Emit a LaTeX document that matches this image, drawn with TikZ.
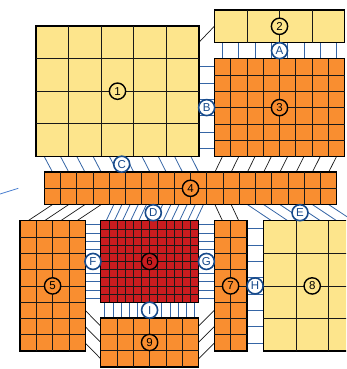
\documentclass[tikz,border=0pt]{standalone}
\usepackage{fontspec}
\setmainfont{Liberation Sans}
\usetikzlibrary{calc,backgrounds}
\definecolor{cyel}{HTML}{FDE58C}
\definecolor{corg}{HTML}{F98E30}
\definecolor{cred}{HTML}{C91C1F}
\definecolor{cblu}{HTML}{3565A5}
\definecolor{cbld}{HTML}{174A8B}
\definecolor{cstray}{HTML}{4A7FCF}
\tikzset{
 blk/.style={draw=black, line width=1.4pt, anchor=north west, inner sep=0pt, outer sep=0pt},
 gl/.style={line width=0.7pt, black!90},
 bl/.style={cblu, line width=0.8pt},
 kl/.style={black!90, line width=0.7pt},
 num/.style={circle, draw=black, line width=1.4pt, minimum size=16.3pt, inner sep=0pt, font=\fontsize{11.5}{11.5}\selectfont},
 let/.style={circle, draw=cbld, fill=white, text=cbld, line width=1.6pt, minimum size=16pt, inner sep=0pt, font=\fontsize{11.5}{11.5}\selectfont},
}
\newcommand\cellgrid[5]{%
  \ifnum#2>1
    \foreach \i in {2,...,#2}{\draw[gl] ($(#1.north west)+({(\i-1)*#4},0)$) -- ($(#1.south west)+({(\i-1)*#4},0)$);}%
  \fi
  \ifnum#3>1
    \foreach \j in {2,...,#3}{\draw[gl] ($(#1.north west)+(0,{(\j-1)*#5})$) -- ($(#1.north east)+(0,{(\j-1)*#5})$);}%
  \fi}
\begin{document}
\begin{tikzpicture}[x=1pt,y=-1pt]
\useasboundingbox (0,0) rectangle (346,369);
\clip (0,0) rectangle (346,369);
% blocks
\node[blk, fill=cyel, minimum width=163pt, minimum height=130.4pt] (b1) at (36,26) {};
\node[blk, fill=cyel, minimum width=130.4pt, minimum height=32.6pt] (b2) at (214.3,10) {};
\node[blk, fill=corg, minimum width=130.4pt, minimum height=97.8pt] (b3) at (214.3,58.7) {};
\node[blk, fill=corg, minimum width=292.4pt, minimum height=32.6pt] (b4) at (44.3,172) {};
\node[blk, fill=corg, minimum width=65.2pt, minimum height=130.4pt] (b5) at (20,220.7) {};
\node[blk, fill=cred, minimum width=97.8pt, minimum height=81.5pt] (b6) at (100.7,220.7) {};
\node[blk, fill=corg, minimum width=32.6pt, minimum height=130.4pt] (b7) at (214.3,220.7) {};
\node[blk, fill=cyel, minimum width=97.8pt, minimum height=130.4pt] (b8) at (263.3,220.7) {};
\node[blk, fill=corg, minimum width=97.8pt, minimum height=48.9pt] (b9) at (100.7,318) {};
\cellgrid{b1}{5}{4}{32.6}{32.6}
\cellgrid{b2}{4}{1}{32.6}{32.6}
\cellgrid{b3}{8}{6}{16.3}{16.3}
\cellgrid{b4}{18}{2}{16.25}{16.3}
\cellgrid{b5}{4}{8}{16.3}{16.3}
\cellgrid{b6}{12}{10}{8.15}{8.15}
\cellgrid{b7}{2}{8}{16.3}{16.3}
\cellgrid{b8}{3}{4}{32.6}{32.6}
\cellgrid{b9}{6}{3}{16.3}{16.3}
% connectors
\begin{scope}[on background layer]
\draw[kl] ($(b1.north east)+(0,16.3)$) -- (b2.west);
\foreach \k in {0,...,7} \draw[bl] ($(b2.south west)+({8.15+16.3*\k},0)$) -- ($(b3.north west)+({8.15+16.3*\k},0)$);
\foreach \k in {0,...,5} {\path ($(b3.north west)+(0,{8.15+16.3*\k})$) coordinate (p); \draw[bl] (p) -- (p -| b1.east);}
\foreach \k in {0,...,9} \draw[bl] ($(b1.south west)+({8.15+16.3*\k},0)$) -- ($(b4.north west)+({8.15+16.25*\k},0)$);
\foreach \k in {0,...,7} \draw[kl] ($(b3.south west)+({8.15+16.3*\k},0)$) -- ($(b4.north west)+({8.15+16.25*(\k+10)},0)$);
\foreach \k in {0,...,3} \draw[kl] ($(b4.south west)+({8.15+16.25*\k},0)$) -- ($(b5.north west)+({8.15+16.3*\k},0)$);
\foreach \k in {0,...,11} \draw[bl] ($(b4.south west)+({69.5+8.15*\k},0)$) -- ($(b6.north west)+({5.5+8.15*\k},0)$);
\foreach \k in {0,...,5} \draw[bl] ($(b4.south west)+({8.15+16.25*(\k+12)},0)$) -- ($(b8.north west)+({8.15+16.3*\k},0)$);
\foreach \k in {0,1} \draw[kl] ($(b4.south west)+({8.15+16.25*(\k+10)},0)$) -- ($(b7.north west)+({8.15+16.3*\k},0)$);
\foreach \k in {0,...,9} {\path ($(b6.north west)+(0,{4.075+8.15*\k})$) coordinate (p); \draw[bl] (p) -- (p -| b5.east);}
\foreach \k in {0,...,9} {\path ($(b6.north east)+(0,{4.075+8.15*\k})$) coordinate (p); \draw[bl] (p) -- (p -| b7.west);}
\foreach \k in {0,...,7} {\path ($(b7.north east)+(0,{8.15+16.3*\k})$) coordinate (p); \draw[bl] (p) -- (p -| b8.west);}
\foreach \k in {0,...,11} {\path ($(b6.south west)+({4.075+8.15*\k},0)$) coordinate (p); \draw[bl] (p) -- (p |- b9.north);}
\foreach \k in {0,1,2} \draw[kl] ($(b5.north east)+(0,{8.15+16.3*(\k+5)})$) -- ($(b9.north west)+(0,{8.15+16.3*\k})$);
\foreach \k in {0,1,2} \draw[kl] ($(b9.north east)+(0,{8.15+16.3*\k})$) -- ($(b7.north west)+(0,{8.15+16.3*(\k+5)})$);
\coordinate (s1) at (0,194);
\coordinate (s2) at (18.3,188.3);
\draw[line width=0.8pt, cstray] (s1) -- (s2);
\end{scope}
% number labels
\node[num, fill=cyel] (n1) at (b1.center) {1};
\node[num, fill=cyel] (n2) at (b2.center) {2};
\node[num, fill=corg] (n3) at (b3.center) {3};
\node[num, fill=corg] (n4) at (b4.center) {4};
\node[num, fill=corg] (n5) at (b5.center) {5};
\node[num, fill=cred] (n6) at (b6.center) {6};
\node[num, fill=corg] (n7) at (b7.center) {7};
\node[num, fill=cyel] (n8) at ($(b8.north west)+(48.9,65.2)$) {8};
\node[num, fill=corg] (n9) at (b9.center) {9};
% interface labels
\node[let] (la) at ($(b2.south)!0.5!(b3.north)$) {A};
\node[let] (lb) at ($(b3.west)!0.5!(b3.west -| b1.east)$) {B};
\node[let] (lc) at (121.7,164.2) {C};
\node[let] (ld) at (153.3,212.7) {D};
\node[let] (le) at (300,212.7) {E};
\node[let] (lf) at ($(b6.west)!0.5!(b6.west -| b5.east)$) {F};
\node[let] (lg) at ($(b6.east)!0.5!(b6.east -| b7.west)$) {G};
\node[let] (lh) at ($(b7.east)!0.5!(b7.east -| b8.west)$) {H};
\node[let] (li) at ($(b6.south)!0.5!(b6.south |- b9.north)$) {I};
\end{tikzpicture}
\end{document}
